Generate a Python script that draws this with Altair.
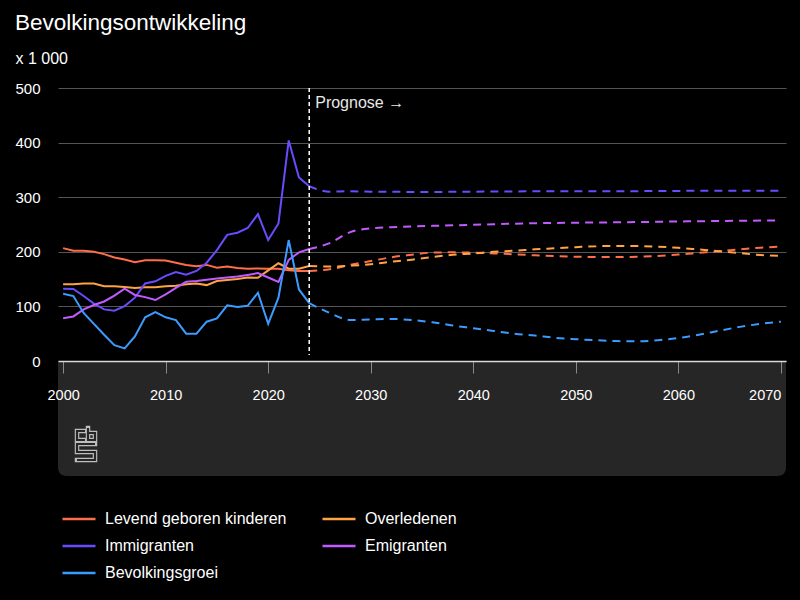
import altair as alt
import pandas as pd

# ---------------- data ----------------
series_names = ["Levend geboren kinderen", "Overledenen", "Immigranten", "Emigranten", "Bevolkingsgroei"]
series_colors = ["#FF6E4A", "#FFA345", "#6A4BFF", "#C25BFF", "#3C9BFF"]

hist_years = list(range(2000, 2025))
hist_geboren = [206.7, 202, 202, 200, 195.7, 189.6, 186, 181, 184.7, 184.7, 184, 180, 176, 173.6,
                176, 171, 173, 170.5, 169, 169.5, 169, 169, 166, 165, 165]
hist_overleden = [140.5, 140.5, 142, 142, 137, 137, 135.6, 133.7, 135, 135, 137, 138, 140.5, 142,
                  139, 146.6, 148.5, 150, 152.8, 152.5, 166, 179, 169, 169, 174]
hist_immigranten = [132.5, 132, 119, 105, 94.5, 92, 100.6, 116, 142, 146, 156, 163, 158, 165,
                    180, 203, 231, 235, 243.6, 269, 221.5, 252, 404, 336, 320]
hist_emigranten = [78.5, 81.6, 94.5, 102.5, 109, 119.6, 132.5, 121, 117, 111.7, 122, 134, 145, 146.6,
                   149, 151, 152.8, 154.6, 157.7, 161, 153, 145, 185, 199, 205]
hist_groei = [123, 119, 88, 68, 48, 29, 23, 45, 80, 89.6, 80, 75, 50, 50,
              72, 78, 102, 99, 101, 125, 68, 116, 221.5, 131, 106]

prog_years = list(range(2024, 2071, 2))
prog_geboren = [165, 168, 176, 183, 190, 194.5, 198.5, 199, 198.5, 197, 195.5, 193.5,
                192, 191, 190.5, 190.4, 191, 192.4, 195, 198, 201, 204.5, 207.5, 209.5]
prog_overleden = [174, 173, 174.5, 177, 182, 185.5, 190.5, 194.5, 197, 200, 202, 204.5,
                  206.5, 208.5, 210.2, 210.6, 210.6, 209.3, 207.3, 204.3, 201.2, 197.5, 194.2, 192.5]
prog_immigranten = [320, 310, 311, 310, 310, 309.5, 309.5, 310, 310, 310.5, 310.5, 311,
                    311, 311, 311, 311, 311, 311.5, 311.5, 312, 312, 312, 312, 312]
prog_emigranten = [205, 216, 236, 243, 245, 246.5, 247.5, 248.5, 249.5, 250.5, 251.5, 252.4,
                   252.8, 253.3, 253.7, 254, 254.5, 255, 255.5, 256, 256.4, 256.8, 257.1, 257.4]
prog_groei = [106, 88, 75, 76, 77, 75, 71, 65, 60, 55, 50, 46.5,
              42.5, 40, 38, 36.5, 36, 38, 42, 48, 55.5, 62.5, 68, 72]

x_ticks = list(range(2000, 2071, 10))
y_ticks = [0, 100, 200, 300, 400, 500]
prognose_start = 2024
prognose_label = "Prognose \u2192"
title_text = "Bevolkingsontwikkeling"
unit_text = "x 1 000"

hist_series = [hist_geboren, hist_overleden, hist_immigranten, hist_emigranten, hist_groei]
prog_series = [prog_geboren, prog_overleden, prog_immigranten, prog_emigranten, prog_groei]

rows = []
for name, vals in zip(series_names, hist_series):
    for yr, v in zip(hist_years, vals):
        rows.append({"jaar": yr, "waarde": v, "reeks": name})
df_hist = pd.DataFrame(rows)
rows = []
for name, vals in zip(series_names, prog_series):
    for yr, v in zip(prog_years, vals):
        rows.append({"jaar": yr, "waarde": v, "reeks": name})
df_prog = pd.DataFrame(rows)

# page background black (the chart sits on a black page)
try:
    import altair.utils.html as _html

    _orig_tpl = _html.TEMPLATES["standard"]

    class _BlackPage:
        def render(self, **kw):
            out = _orig_tpl.render(**kw)
            return out.replace("<head>", "<head>\n<style>html, body { background: #000000; }</style>", 1)

    _html.TEMPLATES["standard"] = _BlackPage()
except Exception:
    pass

# ---------------- chart ----------------
W, H = 728, 273
PANEL = "#262626"
x_scale = alt.Scale(domain=[1999.5, 2070.5], nice=False, zero=False)
y_scale = alt.Scale(domain=[0, 500], nice=False)
color_scale = alt.Scale(domain=series_names, range=series_colors)

x_axis = alt.Axis(values=x_ticks, format="d", title=None, labelColor="white", labelFontSize=14.5,
                  labelPadding=15, tickSize=12, tickColor="#8a8a8a", tickWidth=1,
                  domainColor="#dcdcdc", domainWidth=1.5, grid=False, zindex=1,
                  labelAlign={"expr": "datum.value >= 2070 ? 'right' : 'center'"})
y_axis = alt.Axis(values=y_ticks, title=unit_text, titleAngle=0, titleAlign="left",
                  titleBaseline="alphabetic", titleX=-43, titleY=-25, titleFontSize=16,
                  titleFontWeight="normal", titleColor="white", labelColor="white",
                  labelFontSize=15, labelPadding=18, ticks=False, domain=False,
                  grid=True, gridColor="#555555", gridWidth=1)

legend = alt.Legend(title=None, orient="none", legendX=3, legendY=413, columns=2,
                    direction="horizontal",
                    symbolType="stroke", symbolSize=1089, symbolStrokeWidth=2.5,
                    labelFontSize=16, labelColor="white", labelOffset=8, labelLimit=400,
                    columnPadding=30, rowPadding=1, padding=0)

dummy = pd.DataFrame({"a": [0]})

panel = alt.Chart(dummy).mark_rect(color=PANEL, cornerRadiusBottomLeft=8,
                                   cornerRadiusBottomRight=8).encode(
    x=alt.value(0), x2=alt.value(W), y=alt.value(H), y2=alt.value(H + 115))

hist = alt.Chart(df_hist).mark_line(strokeWidth=2).encode(
    x=alt.X("jaar:Q", scale=x_scale, axis=x_axis),
    y=alt.Y("waarde:Q", scale=y_scale, axis=y_axis),
    color=alt.Color("reeks:N", scale=color_scale, legend=legend, sort=series_names),
)
prog = alt.Chart(df_prog).mark_line(strokeWidth=2, strokeDash=[8, 6], interpolate="monotone").encode(
    x=alt.X("jaar:Q", scale=x_scale),
    y=alt.Y("waarde:Q", scale=y_scale),
    color=alt.Color("reeks:N", scale=color_scale, legend=None, sort=series_names),
)
rule = alt.Chart(dummy).mark_rule(color="white", strokeDash=[4, 3], strokeWidth=1.5).encode(
    x=alt.datum(prognose_start), y=alt.value(0), y2=alt.value(H - 6))
label = alt.Chart(dummy).mark_text(align="left", baseline="middle", dx=6, fontSize=16,
                                   color="#e8e8e8").encode(
    x=alt.datum(prognose_start), y=alt.value(15), text=alt.value(prognose_label))

logo_path = ("M-0.059,-0.824 L-0.529,-0.824 L-0.529,-0.294 L-0.059,-0.294 "
             "M0.118,-1 L0.118,-0.294 L0.529,-0.294 L0.529,-0.706 L0.118,-0.706 "
             "M0.529,-0.059 L-0.529,-0.059 L-0.529,0.412 L0.529,0.412 L0.529,0.882 L-0.529,0.882")
logo_outer = alt.Chart(dummy).mark_point(shape=logo_path, filled=False, size=1156, stroke="#bdbdbd",
                                         strokeWidth=4.5, strokeCap="square", opacity=1).encode(
    x=alt.value(28), y=alt.value(357))
logo_inner = alt.Chart(dummy).mark_point(shape=logo_path, filled=False, size=1156, stroke=PANEL,
                                         strokeWidth=2.2, opacity=1).encode(
    x=alt.value(28), y=alt.value(357))

chart = alt.layer(panel, hist, prog, rule, label, logo_outer, logo_inner).properties(
    width=W, height=H,
    title=alt.TitleParams(title_text, anchor="start", frame="bounds", fontSize=22.5,
                          fontWeight="normal", color="white", offset=16),
    autosize=alt.AutoSizeParams(type="none"),
    padding={"left": 50, "top": 80, "right": 6, "bottom": 225},
).configure(
    background="black", font="Liberation Sans"
).configure_view(stroke=None)

chart.save("out.html", embed_options={"renderer": "svg", "actions": False})
